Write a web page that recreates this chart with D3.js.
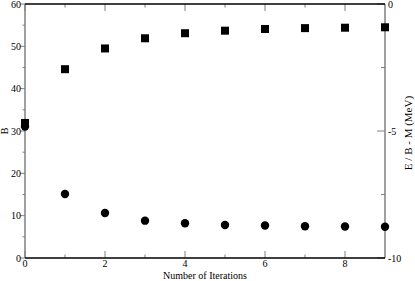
<!doctype html>
<html>
<head>
<script src="https://cdnjs.cloudflare.com/ajax/libs/d3/7.8.5/d3.min.js"></script>
<style>
  body { margin: 0; background: #fff; }
  svg { display: block; font-family: "Liberation Serif", "DejaVu Serif", serif; }
</style>
</head>
<body>
<svg width="415" height="281"></svg>
<script>
// iterations
var iterations = [0, 1, 2, 3, 4, 5, 6, 7, 8, 9];
// B (left axis, squares)
var bValues = [31.9, 44.6, 49.5, 51.9, 53.1, 53.7, 54.1, 54.3, 54.4, 54.5];
// E / B - M in MeV (right axis, circles)
var eValues = [-4.82, -7.48, -8.23, -8.53, -8.63, -8.70, -8.72, -8.75, -8.76, -8.77];

var xTicks = [0, 2, 4, 6, 8];
var leftTicks = [0, 10, 20, 30, 40, 50, 60];
var rightTicks = [0, -5, -10];

var svg = d3.select("svg");
var L = 25, R = 385, T = 4, B = 258;
var grey = "#808080";

var x = d3.scaleLinear().domain([0, 9]).range([L, R]);
var yL = d3.scaleLinear().domain([0, 60]).range([B, T]);
var yR = d3.scaleLinear().domain([-10, 0]).range([B, T]);

// minor ticks
var xMinor = d3.range(1, 9, 2);
var lMinor = d3.range(5, 60, 10);
var rMinor = [-2.5, -7.5];

// bottom ticks (inward)
svg.append("g").selectAll("line").data(xTicks.concat(xMinor)).enter().append("line")
  .attr("x1", d => x(d)).attr("x2", d => x(d))
  .attr("y1", B).attr("y2", d => B - (d % 2 === 0 ? 7 : 3.5))
  .attr("stroke", grey).attr("stroke-width", 1);
// top ticks (inward)
svg.append("g").selectAll("line").data(xTicks.concat(xMinor)).enter().append("line")
  .attr("x1", d => x(d)).attr("x2", d => x(d))
  .attr("y1", T).attr("y2", d => T + (d % 2 === 0 ? 7 : 3.5))
  .attr("stroke", grey).attr("stroke-width", 1);
// left ticks (outward)
svg.append("g").selectAll("line").data(leftTicks.concat(lMinor)).enter().append("line")
  .attr("y1", d => yL(d)).attr("y2", d => yL(d))
  .attr("x1", L).attr("x2", d => L - (d % 10 === 0 ? 5 : 2.5))
  .attr("stroke", grey).attr("stroke-width", 1);
// right ticks (inward)
svg.append("g").selectAll("line").data(rightTicks.concat(rMinor)).enter().append("line")
  .attr("y1", d => yR(d)).attr("y2", d => yR(d))
  .attr("x1", R).attr("x2", d => R - (d % 5 === 0 ? 8 : 4))
  .attr("stroke", grey).attr("stroke-width", 1);

// frame
svg.append("line").attr("x1", L).attr("x2", L).attr("y1", T).attr("y2", B).attr("stroke", grey).attr("stroke-width", 1.5);
svg.append("line").attr("x1", R).attr("x2", R).attr("y1", T).attr("y2", B).attr("stroke", grey).attr("stroke-width", 1.5);
svg.append("line").attr("x1", L).attr("x2", R).attr("y1", T).attr("y2", T).attr("stroke", "#000").attr("stroke-width", 1.5);
svg.append("line").attr("x1", L).attr("x2", R).attr("y1", B).attr("y2", B).attr("stroke", "#000").attr("stroke-width", 1.5);

// tick labels
svg.append("g").selectAll("text").data(xTicks).enter().append("text")
  .attr("x", d => x(d)).attr("y", 267).attr("text-anchor", "middle")
  .attr("font-size", 10).text(d => d);
svg.append("g").selectAll("text").data(leftTicks).enter().append("text")
  .attr("x", 21).attr("y", d => yL(d) + 3.5).attr("text-anchor", "end")
  .attr("font-size", 10).text(d => d);
svg.append("g").selectAll("text").data(rightTicks).enter().append("text")
  .attr("x", 388).attr("y", d => yR(d) + 3.5).attr("text-anchor", "start")
  .attr("font-size", 10).text(d => d);

// axis titles
svg.append("text").attr("x", 205).attr("y", 278.5).attr("text-anchor", "middle")
  .attr("font-size", 10).text("Number of Iterations");
svg.append("text").attr("transform", "translate(8,131) rotate(-90)")
  .attr("text-anchor", "middle").attr("font-size", 10).text("B");
svg.append("text").attr("transform", "translate(412,133) rotate(-90)")
  .attr("text-anchor", "middle").attr("font-size", 11).text("E / B - M (MeV)");

// squares (B)
svg.append("g").selectAll("rect").data(iterations).enter().append("rect")
  .attr("x", (d, i) => x(d) - 4).attr("y", (d, i) => yL(bValues[i]) - 4)
  .attr("width", 8).attr("height", 8).attr("fill", "#000");
// circles (E/B - M)
svg.append("g").selectAll("circle").data(iterations).enter().append("circle")
  .attr("cx", d => x(d)).attr("cy", (d, i) => yR(eValues[i]))
  .attr("r", 4.2).attr("fill", "#000");
</script>
</body>
</html>
